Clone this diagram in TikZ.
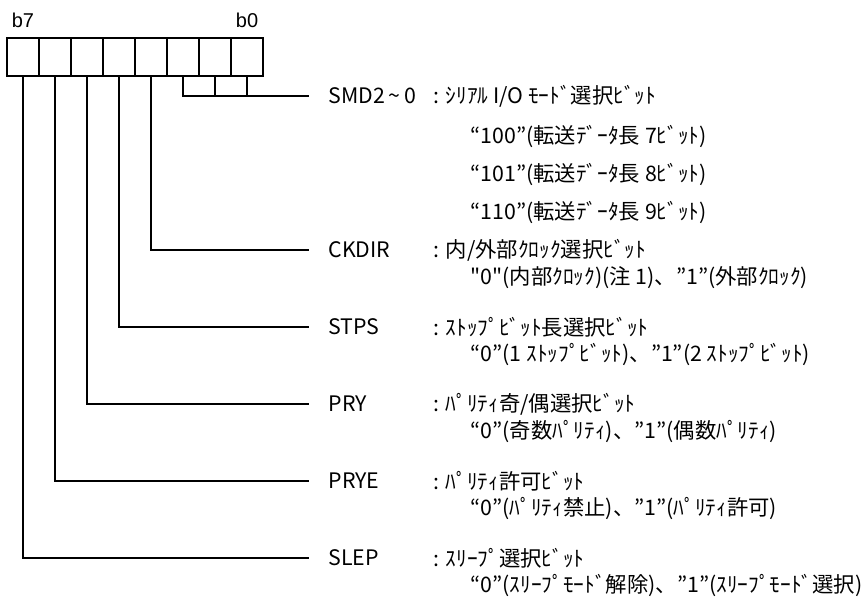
\documentclass[tikz,border=0pt]{standalone}
\usepackage{fontspec}
\setmainfont{Liberation Sans}
\newfontfamily\jpfont{Noto Sans CJK JP}
\tikzset{
  cell/.style={draw, minimum width=24pt, minimum height=28.5pt, inner sep=0pt},
  bitlabel/.style={inner sep=0pt, font=\fontsize{15pt}{18pt}\selectfont},
  field/.style={anchor=west, inner sep=0pt, font=\jpfont\fontsize{16pt}{19pt}\selectfont},
}
\begin{document}
\begin{tikzpicture}[x=0.75pt,y=-0.75pt,line width=0.9pt]
  \useasboundingbox (0,0) rectangle (866,601);
  % register cells, c7 (left) ... c0 (right)
  \foreach \i in {0,...,7}
    \node[cell] (c\i) at ({247-32*\i},57) {};
  \node[bitlabel] (b7) at (23,20) {b7};
  \node[bitlabel] (b0) at (247,20) {b0};
  \draw
    (328,96) node[field] (smd) {SMD2\,\textasciitilde\,0}
    (328,250) node[field] (ckdir) {CKDIR}
    (328,327) node[field] (stps) {STPS}
    (328,404) node[field] (pry) {PRY}
    (328,481) node[field] (prye) {PRYE}
    (328,558) node[field] (slep) {SLEP};
  \draw
    (433,96) node[field] (smdtxt) {: ｼﾘｱﾙ I/O ﾓｰﾄﾞ選択ﾋﾞｯﾄ}
    (470,136) node[field] (smda) {“100”(転送ﾃﾞｰﾀ長 7ﾋﾞｯﾄ)}
    (470,174) node[field] (smdb) {“101”(転送ﾃﾞｰﾀ長 8ﾋﾞｯﾄ)}
    (470,212) node[field] (smdc) {“110”(転送ﾃﾞｰﾀ長 9ﾋﾞｯﾄ)}
    (433,250) node[field] (ckdirtxt) {: 内/外部ｸﾛｯｸ選択ﾋﾞｯﾄ}
    (470,278) node[field] (ckdirval) {"0"(内部ｸﾛｯｸ)(注 1)、”1”(外部ｸﾛｯｸ)}
    (433,327) node[field] (stpstxt) {: ｽﾄｯﾌﾟﾋﾞｯﾄ長選択ﾋﾞｯﾄ}
    (470,354) node[field] (stpsval) {“0”(1 ｽﾄｯﾌﾟﾋﾞｯﾄ)、”1”(2 ｽﾄｯﾌﾟﾋﾞｯﾄ)}
    (433,404) node[field] (prytxt) {: ﾊﾟﾘﾃｨ奇/偶選択ﾋﾞｯﾄ}
    (470,431) node[field] (pryval) {“0”(奇数ﾊﾟﾘﾃｨ)、”1”(偶数ﾊﾟﾘﾃｨ)}
    (433,481) node[field] (pryetxt) {: ﾊﾟﾘﾃｨ許可ﾋﾞｯﾄ}
    (470,508) node[field] (pryeval) {“0”(ﾊﾟﾘﾃｨ禁止)、”1”(ﾊﾟﾘﾃｨ許可)}
    (433,558) node[field] (sleptxt) {: ｽﾘｰﾌﾟ選択ﾋﾞｯﾄ}
    (470,585) node[field] (slepval) {“0”(ｽﾘｰﾌﾟﾓｰﾄﾞ解除)、”1”(ｽﾘｰﾌﾟﾓｰﾄﾞ選択)};
  \begin{scope}[-]
    \draw (c2.south) |- ([xshift=-14pt]smd.west);
    \draw (c1.south) -- (c1 |- smd.west);
    \draw (c0.south) -- (c0 |- smd.west);
    \draw (c3.south) |- ([xshift=-14pt]ckdir.west);
    \draw (c4.south) |- ([xshift=-14pt]stps.west);
    \draw (c5.south) |- ([xshift=-14pt]pry.west);
    \draw (c6.south) |- ([xshift=-14pt]prye.west);
    \draw (c7.south) |- ([xshift=-14pt]slep.west);
  \end{scope}
\end{tikzpicture}
\end{document}
